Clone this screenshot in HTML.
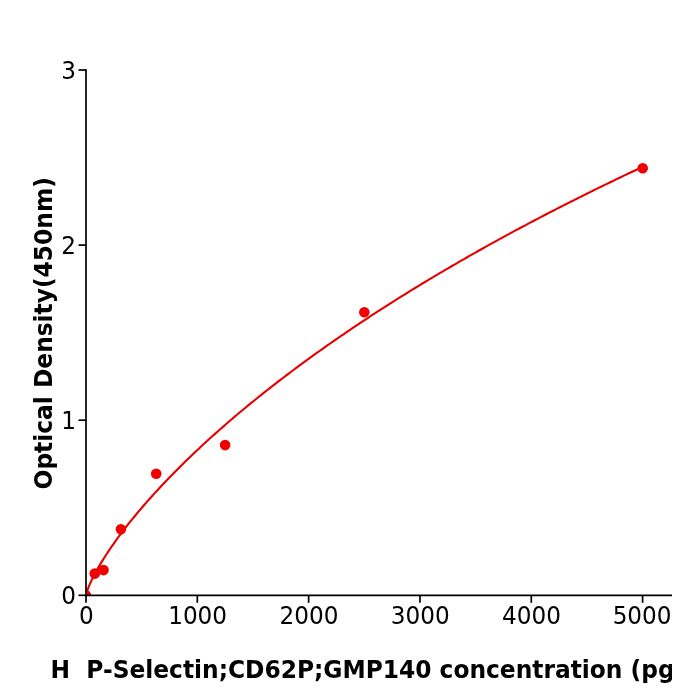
<!DOCTYPE html>
<html><head><meta charset="utf-8"><title>chart</title>
<style>
html,body{margin:0;padding:0;background:#fff;}
body{width:700px;height:700px;overflow:hidden;}
svg{display:block;}
text{font-family:"DejaVu Sans","Liberation Sans",sans-serif;fill:#000;}
.tl text{font-size:24px;}
.lab{font-size:24px;font-weight:bold;}
</style></head><body>
<svg width="700" height="700" viewBox="0 0 700 700">
<rect width="700" height="700" fill="#fff"/>
<defs><clipPath id="ax"><rect x="86" y="70" width="586.0" height="525.3"/></clipPath>
<clipPath id="fig"><rect x="0" y="0" width="672" height="700"/></clipPath></defs>
<g clip-path="url(#fig)">
<g clip-path="url(#ax)">
<path d="M86.00 595.61 L86.29 594.08 L86.57 592.99 L86.86 592.03 L87.14 591.13 L87.43 590.28 L87.71 589.48 L88.00 588.70 L88.28 587.95 L88.57 587.22 L88.85 586.51 L89.14 585.81 L89.43 585.13 L89.71 584.46 L90.00 583.80 L90.28 583.16 L90.57 582.52 L90.85 581.90 L91.14 581.28 L91.42 580.67 L91.71 580.07 L91.99 579.47 L92.28 578.88 L92.57 578.30 L92.85 577.72 L93.14 577.15 L93.42 576.59 L93.71 576.03 L93.99 575.47 L94.28 574.92 L94.56 574.38 L94.85 573.84 L95.13 573.30 L95.42 572.77 L95.70 572.24 L95.99 571.71 L96.28 571.19 L96.56 570.67 L96.85 570.16 L97.13 569.64 L99.87 564.88 L102.61 560.35 L105.36 556.00 L108.10 551.81 L110.84 547.74 L113.58 543.80 L116.32 539.96 L119.06 536.20 L121.80 532.54 L124.54 528.95 L127.28 525.42 L130.02 521.97 L132.77 518.57 L135.51 515.23 L138.25 511.94 L140.99 508.70 L143.73 505.51 L146.47 502.37 L149.21 499.26 L151.95 496.20 L154.69 493.17 L157.43 490.18 L160.18 487.23 L162.92 484.30 L165.66 481.42 L168.40 478.56 L171.14 475.73 L173.88 472.93 L176.62 470.16 L179.36 467.42 L182.10 464.70 L184.85 462.00 L187.59 459.34 L190.33 456.69 L193.07 454.07 L195.81 451.47 L198.55 448.89 L201.29 446.34 L204.03 443.80 L206.77 441.29 L209.51 438.79 L212.26 436.31 L215.00 433.86 L217.74 431.42 L220.48 428.99 L223.22 426.59 L225.96 424.20 L228.70 421.83 L231.44 419.48 L234.18 417.14 L236.93 414.82 L239.67 412.51 L242.41 410.22 L245.15 407.94 L247.89 405.68 L250.63 403.43 L253.37 401.20 L256.11 398.98 L258.85 396.77 L261.59 394.58 L264.34 392.40 L267.08 390.23 L269.82 388.08 L272.56 385.93 L275.30 383.80 L278.04 381.68 L280.78 379.58 L283.52 377.48 L286.26 375.40 L289.01 373.33 L291.75 371.27 L294.49 369.22 L297.23 367.18 L299.97 365.15 L302.71 363.13 L305.45 361.12 L308.19 359.13 L310.93 357.14 L313.67 355.16 L316.42 353.20 L319.16 351.24 L321.90 349.29 L324.64 347.35 L327.38 345.42 L330.12 343.50 L332.86 341.59 L335.60 339.69 L338.34 337.79 L341.09 335.91 L343.83 334.03 L346.57 332.17 L349.31 330.31 L352.05 328.46 L354.79 326.62 L357.53 324.78 L360.27 322.96 L363.01 321.14 L365.75 319.33 L368.50 317.53 L371.24 315.73 L373.98 313.94 L376.72 312.17 L379.46 310.39 L382.20 308.63 L384.94 306.87 L387.68 305.12 L390.42 303.38 L393.16 301.64 L395.91 299.92 L398.65 298.20 L401.39 296.48 L404.13 294.77 L406.87 293.07 L409.61 291.38 L412.35 289.69 L415.09 288.01 L417.83 286.34 L420.58 284.67 L423.32 283.01 L426.06 281.35 L428.80 279.70 L431.54 278.06 L434.28 276.42 L437.02 274.79 L439.76 273.17 L442.50 271.55 L445.24 269.94 L447.99 268.33 L450.73 266.73 L453.47 265.14 L456.21 263.55 L458.95 261.96 L461.69 260.39 L464.43 258.81 L467.17 257.25 L469.91 255.69 L472.66 254.13 L475.40 252.58 L478.14 251.04 L480.88 249.50 L483.62 247.96 L486.36 246.43 L489.10 244.91 L491.84 243.39 L494.58 241.88 L497.32 240.37 L500.07 238.87 L502.81 237.37 L505.55 235.88 L508.29 234.39 L511.03 232.90 L513.77 231.43 L516.51 229.95 L519.25 228.48 L521.99 227.02 L524.74 225.56 L527.48 224.11 L530.22 222.66 L532.96 221.21 L535.70 219.77 L538.44 218.33 L541.18 216.90 L543.92 215.48 L546.66 214.05 L549.40 212.64 L552.15 211.22 L554.89 209.81 L557.63 208.41 L560.37 207.01 L563.11 205.61 L565.85 204.22 L568.59 202.83 L571.33 201.45 L574.07 200.07 L576.81 198.69 L579.56 197.32 L582.30 195.95 L585.04 194.59 L587.78 193.23 L590.52 191.88 L593.26 190.52 L596.00 189.18 L598.74 187.83 L601.48 186.50 L604.23 185.16 L606.97 183.83 L609.71 182.50 L612.45 181.18 L615.19 179.86 L617.93 178.54 L620.67 177.23 L623.41 175.92 L626.15 174.61 L628.89 173.31 L631.64 172.02 L634.38 170.72 L637.12 169.43 L639.86 168.14 L642.60 166.86" fill="none" stroke="#e60000" stroke-width="2.1" stroke-linejoin="round" stroke-linecap="butt"/>
<g fill="#f00000"><circle cx="85.8" cy="595.2" r="5.3"/>
<circle cx="94.8" cy="573.6" r="5.3"/>
<circle cx="103.5" cy="570.1" r="5.3"/>
<circle cx="120.9" cy="529.3" r="5.3"/>
<circle cx="156.2" cy="473.8" r="5.3"/>
<circle cx="225.1" cy="445.1" r="5.3"/>
<circle cx="364.3" cy="312.3" r="5.3"/>
<circle cx="642.7" cy="168.3" r="5.3"/></g>
</g>
<g stroke="#000" stroke-width="1.7" fill="none">
<line x1="86" y1="69.2" x2="86" y2="596.15"/>
<line x1="85.15" y1="595.3" x2="672.0" y2="595.3"/>
<line x1="86.00" y1="595.3" x2="86.00" y2="602.8"/><line x1="197.32" y1="595.3" x2="197.32" y2="602.8"/><line x1="308.64" y1="595.3" x2="308.64" y2="602.8"/><line x1="419.96" y1="595.3" x2="419.96" y2="602.8"/><line x1="531.28" y1="595.3" x2="531.28" y2="602.8"/><line x1="642.60" y1="595.3" x2="642.60" y2="602.8"/><line x1="78.5" y1="595.30" x2="86" y2="595.30"/><line x1="78.5" y1="420.20" x2="86" y2="420.20"/><line x1="78.5" y1="245.10" x2="86" y2="245.10"/><line x1="78.5" y1="70.00" x2="86" y2="70.00"/>
</g>
<g class="tl"><text transform="translate(86.30,623.5) scale(0.965,1)" text-anchor="middle">0</text><text transform="translate(197.62,623.5) scale(0.965,1)" text-anchor="middle">1000</text><text transform="translate(308.94,623.5) scale(0.965,1)" text-anchor="middle">2000</text><text transform="translate(420.26,623.5) scale(0.965,1)" text-anchor="middle">3000</text><text transform="translate(531.58,623.5) scale(0.965,1)" text-anchor="middle">4000</text><text transform="translate(642.10,623.5) scale(0.965,1)" text-anchor="middle">5000</text><text transform="translate(75.9,604.20) scale(0.965,1)" text-anchor="end">0</text><text transform="translate(75.9,429.10) scale(0.965,1)" text-anchor="end">1</text><text transform="translate(75.9,254.00) scale(0.965,1)" text-anchor="end">2</text><text transform="translate(75.9,78.90) scale(0.965,1)" text-anchor="end">3</text></g>
<text class="lab" transform="translate(50.5,678) scale(0.9725,1)" xml:space="preserve" style="white-space:pre">H  P-Selectin;CD62P;GMP140 concentration (pg</text>
<text class="lab" transform="translate(52.2,489.4) rotate(-90) scale(0.9725,1)">Optical Density(450nm)</text>
</g>
</svg>
</body></html>
